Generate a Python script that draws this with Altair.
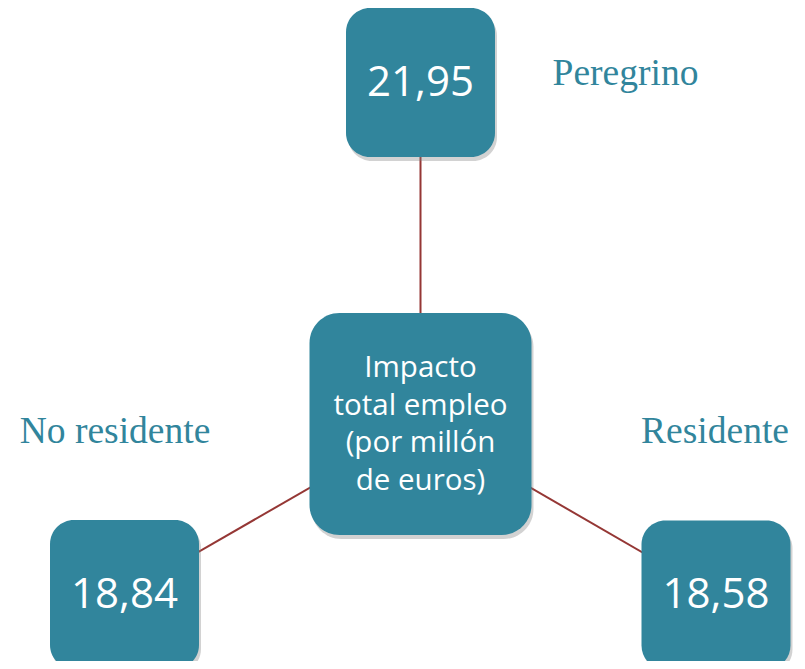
import altair as alt
import pandas as pd

# ---- data ----
categories = ["Peregrino", "No residente", "Residente"]
values = [21.95, 18.84, 18.58]
center_lines = ["Impacto", "total empleo", "(por millón", "de euros)"]

# ---- layout (diagram positions in page pixels) ----
node_cx = [420.5, 124.5, 716.0]
node_cy = [82.5, 594.5, 595.0]
node_size = 149
center_cx, center_cy, center_size = 420.5, 424.0, 222
label_x = [625.5, 115.0, 715.0]
label_y = [85.0, 443.0, 443.0]

TEAL = "#31859C"
RED = "#953735"

nodes = pd.DataFrame({
    "category": categories,
    "value": values,
    "text": [f"{v:.2f}".replace(".", ",") for v in values],
    "cx": node_cx,
    "cy": node_cy,
    "lx": label_x,
    "ly": label_y,
})
nodes["x1"] = nodes["cx"] - node_size / 2
nodes["x2"] = nodes["cx"] + node_size / 2
nodes["y1"] = nodes["cy"] - node_size / 2
nodes["y2"] = nodes["cy"] + node_size / 2
nodes["ccx"] = center_cx
nodes["ccy"] = center_cy
nodes["ty"] = nodes["cy"] + 13

center = pd.DataFrame({
    "text": ["\n".join(center_lines)],
    "cx": [center_cx],
    "cy": [center_cy],
    "x1": [center_cx - center_size / 2],
    "x2": [center_cx + center_size / 2],
    "y1": [center_cy - center_size / 2],
    "y2": [center_cy + center_size / 2],
    "ty": [377.0],
})

# page is 805x669 with 8px body margin -> drawable 789x653
W, H = 789, 653
xs = alt.Scale(domain=[8, 8 + W], nice=False, zero=False)
ys = alt.Scale(domain=[8, 8 + H], nice=False, zero=False, reverse=True)

def X(f):
    return alt.X(f, type="quantitative", scale=xs, axis=None)

def Y(f):
    return alt.Y(f, type="quantitative", scale=ys, axis=None)

base_n = alt.Chart(nodes)
base_c = alt.Chart(center)

links = base_n.mark_rule(color=RED, strokeWidth=2).encode(
    x=X("ccx"), y=Y("ccy"), x2="cx", y2="cy"
)

shadow_off = 3
nodes_shadow = base_n.transform_calculate(
    sx1=f"datum.x1 + {shadow_off - 1}", sx2=f"datum.x2 + {shadow_off - 1}",
    sy1=f"datum.y1 + {shadow_off + 1}", sy2=f"datum.y2 + {shadow_off + 1}"
).mark_rect(cornerRadius=24, color="#7f7f7f", opacity=0.35).encode(
    x=X("sx1"), x2="sx2", y=Y("sy1"), y2="sy2"
)
center_shadow = base_c.transform_calculate(
    sx1=f"datum.x1 + {shadow_off - 1}", sx2=f"datum.x2 + {shadow_off - 1}",
    sy1=f"datum.y1 + {shadow_off + 1}", sy2=f"datum.y2 + {shadow_off + 1}"
).mark_rect(cornerRadius=30, color="#7f7f7f", opacity=0.35).encode(
    x=X("sx1"), x2="sx2", y=Y("sy1"), y2="sy2"
)

node_boxes = base_n.mark_rect(cornerRadius=24, color=TEAL).encode(
    x=X("x1"), x2="x2", y=Y("y1"), y2="y2"
)
center_box = base_c.mark_rect(cornerRadius=30, color=TEAL).encode(
    x=X("x1"), x2="x2", y=Y("y1"), y2="y2"
)

node_text = base_n.mark_text(
    font="Open Sans", fontSize=42, color="white", baseline="alphabetic", align="center"
).encode(x=X("cx"), y=Y("ty"), text="text:N")

center_text = base_c.mark_text(
    font="Open Sans", fontSize=29.5, color="white", baseline="alphabetic",
    align="center", lineBreak="\n", lineHeight=37.7
).encode(x=X("cx"), y=Y("ty"), text="text:N")

labels = base_n.mark_text(
    font="Liberation Serif", fontSize=37.5, color=TEAL, baseline="alphabetic", align="center"
).encode(x=X("lx"), y=Y("ly"), text="category:N")

chart = alt.layer(
    links, nodes_shadow, center_shadow, node_boxes, center_box,
    node_text, center_text, labels
).properties(
    width=W, height=H, padding=0, autosize=alt.AutoSizeParams(type="none"),
    background="white"
).configure_view(stroke=None)

chart.save("out.html", embed_options={"renderer": "svg", "actions": False})
